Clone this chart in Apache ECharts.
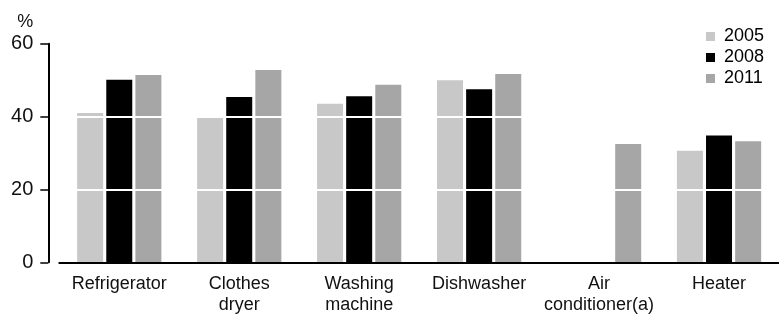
<!DOCTYPE html>
<html>
<head>
<meta charset="utf-8">
<script src="https://cdn.jsdelivr.net/npm/echarts@6/dist/echarts.min.js"></script>
<style>
html, body { margin: 0; padding: 0; background: #fff; }
#main { width: 779px; height: 318px; }
</style>
</head>
<body>
<div id="main"></div>
<script>
var categories = ['Refrigerator', 'Clothes\ndryer', 'Washing\nmachine', 'Dishwasher', 'Air\nconditioner(a)', 'Heater'];
var years = ['2005', '2008', '2011'];
var v2005 = [41, 39.7, 43.5, 50, null, 30.6];
var v2008 = [50.1, 45.4, 45.6, 47.5, null, 34.8];
var v2011 = [51.4, 52.8, 48.7, 51.7, 32.5, 33.2];
var yTicks = { min: 0, max: 60, step: 20 };
var colors = ['#c8c8c8', '#000000', '#a6a6a6'];

var font = "'Liberation Sans', Arial, sans-serif";
var chart = echarts.init(document.getElementById('main'));

function bar(name, data, color) {
    return {
        name: name,
        type: 'bar',
        data: data,
        barWidth: 26,
        barGap: '12%',
        itemStyle: { color: color },
        z: 2
    };
}

var option = {
    animation: false,
    textStyle: { fontFamily: font },
    grid: { left: 59.3, right: -8.7, top: 43.7, bottom: 55.7, containLabel: false },
    legend: {
        orient: 'vertical',
        left: 706,
        top: 26,
        padding: 0,
        itemGap: 0,
        itemWidth: 9,
        itemHeight: 9,
        icon: 'rect',
        selectedMode: false,
        textStyle: { fontSize: 18, color: '#000', lineHeight: 21, padding: [0, 0, 0, 4] },
        data: years
    },
    xAxis: {
        type: 'category',
        data: categories,
        offset: 2,
        z: 4,
        axisLine: { lineStyle: { color: '#000', width: 2 } },
        axisTick: { alignWithLabel: true, length: 6, lineStyle: { color: '#000', width: 1.5 } },
        axisLabel: { interval: 0, margin: 9, fontSize: 18, color: '#111', lineHeight: 21 },
        splitLine: { show: false }
    },
    yAxis: {
        type: 'value',
        min: yTicks.min,
        max: yTicks.max,
        interval: yTicks.step,
        offset: 11,
        z: 3,
        name: '%',
        nameLocation: 'end',
        nameGap: 22,
        nameTextStyle: { fontSize: 18, color: '#111', align: 'right', verticalAlign: 'middle', padding: [0, 15, 0, 0] },
        axisLine: { show: true, lineStyle: { color: '#000', width: 2 } },
        axisTick: { show: true, length: 8, lineStyle: { color: '#000', width: 1.5 } },
        axisLabel: { margin: 15, fontSize: 20, color: '#111' },
        splitLine: { show: true, lineStyle: { color: '#fff', width: 2 } }
    },
    series: [
        bar(years[0], v2005, colors[0]),
        bar(years[1], v2008, colors[1]),
        bar(years[2], v2011, colors[2])
    ]
};
chart.setOption(option);
</script>
</body>
</html>
